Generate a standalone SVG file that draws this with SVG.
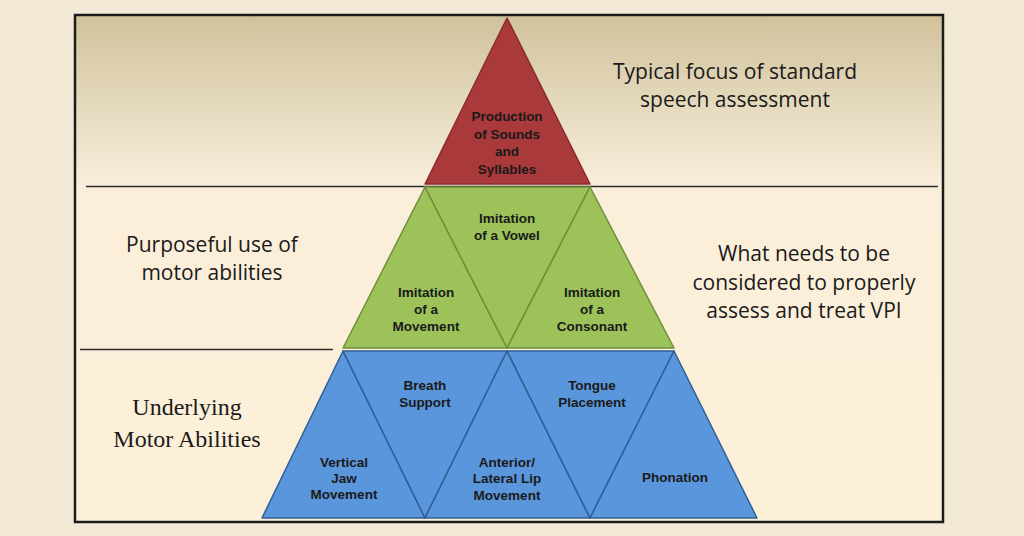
<svg xmlns="http://www.w3.org/2000/svg" width="1024" height="536" viewBox="0 0 1024 536">
<defs>
<linearGradient id="topg" x1="0" y1="0" x2="0" y2="1">
<stop offset="0" stop-color="#d1c29c"/>
<stop offset="0.55" stop-color="#e6dbbf"/>
<stop offset="1" stop-color="#f8eedb"/>
</linearGradient>
<linearGradient id="botg" x1="0" y1="0" x2="0" y2="1">
<stop offset="0" stop-color="#f9eedc"/>
<stop offset="1" stop-color="#fdf0d8"/>
</linearGradient>
<style>
.red{fill:#a9393a;stroke:#8a2d2e;stroke-width:1.5;stroke-linejoin:round}
.green{fill:#9dc25a;stroke:#6f8f3a;stroke-width:1.5;stroke-linejoin:round}
.blue{fill:#5a96dc;stroke:#2f5f96;stroke-width:1.5;stroke-linejoin:round}
.lbl{font-family:"Liberation Sans",Arial,sans-serif;font-weight:bold;font-size:13.5px;fill:#1a1a1a;text-anchor:middle}
.side{font-family:"Open Sans","Liberation Sans",sans-serif;font-size:21px;fill:#1a1a1a;text-anchor:middle}
.serif{font-family:"Liberation Serif","Times New Roman",serif;font-size:24px;fill:#1a1a1a;text-anchor:middle}
.rule{stroke:#2a2a2a;stroke-width:1.5}
</style>
</defs>
<rect x="0" y="0" width="1024" height="536" fill="#f2ead6"/>
<g id="frame">
<rect x="75" y="15" width="868" height="507" fill="url(#botg)"/>
<rect x="76" y="16" width="866" height="170" fill="url(#topg)"/>
<rect x="75" y="15" width="868" height="507" fill="none" stroke="#1c1c1c" stroke-width="2.5"/>
</g>
<g id="connectors">
<line class="rule" x1="86" y1="186.5" x2="938" y2="186.5"/>
<line class="rule" x1="80" y1="349.5" x2="333" y2="349.5"/>
</g>
<g id="top-sounds">
<polygon class="red" points="507,18 590,184 425,184"/>
<text class="lbl" x="507" y="121">Production</text>
<text class="lbl" x="507" y="139">of Sounds</text>
<text class="lbl" x="507" y="156">and</text>
<text class="lbl" x="507" y="174">Syllables</text>
</g>
<g id="green-movement">
<polygon class="green" points="425,187 507,348 343,348"/>
<text class="lbl" x="426" y="297">Imitation</text>
<text class="lbl" x="426" y="314">of a</text>
<text class="lbl" x="426" y="331">Movement</text>
</g>
<g id="green-vowel">
<polygon class="green" points="425,187 590,187 507,348"/>
<text class="lbl" x="507" y="223">Imitation</text>
<text class="lbl" x="507" y="240">of a Vowel</text>
</g>
<g id="green-consonant">
<polygon class="green" points="590,187 674,348 507,348"/>
<text class="lbl" x="592" y="297">Imitation</text>
<text class="lbl" x="592" y="314">of a</text>
<text class="lbl" x="592" y="331">Consonant</text>
</g>
<g id="blue-jaw">
<polygon class="blue" points="343,351 425,518 262,518"/>
<text class="lbl" x="344" y="467">Vertical</text>
<text class="lbl" x="344" y="483">Jaw</text>
<text class="lbl" x="344" y="499">Movement</text>
</g>
<g id="blue-breath">
<polygon class="blue" points="343,351 507,351 425,518"/>
<text class="lbl" x="425" y="390">Breath</text>
<text class="lbl" x="425" y="407">Support</text>
</g>
<g id="blue-lip">
<polygon class="blue" points="507,351 590,518 425,518"/>
<text class="lbl" x="507" y="467">Anterior/</text>
<text class="lbl" x="507" y="483">Lateral Lip</text>
<text class="lbl" x="507" y="500">Movement</text>
</g>
<g id="blue-tongue">
<polygon class="blue" points="507,351 674,351 590,518"/>
<text class="lbl" x="592" y="390">Tongue</text>
<text class="lbl" x="592" y="407">Placement</text>
</g>
<g id="blue-phonation">
<polygon class="blue" points="674,351 757,518 590,518"/>
<text class="lbl" x="675" y="482">Phonation</text>
</g>
<g id="label-typical">
<text class="side" x="735" y="79">Typical focus of standard</text>
<text class="side" x="735" y="107">speech assessment</text>
</g>
<g id="label-purposeful">
<text class="side" x="212" y="252">Purposeful use of</text>
<text class="side" x="212" y="280">motor abilities</text>
</g>
<g id="label-what">
<text class="side" x="804" y="261">What needs to be</text>
<text class="side" x="804" y="290">considered to properly</text>
<text class="side" x="804" y="318">assess and treat VPI</text>
</g>
<g id="label-underlying">
<text class="serif" x="187" y="415">Underlying</text>
<text class="serif" x="187" y="447">Motor Abilities</text>
</g>
</svg>
